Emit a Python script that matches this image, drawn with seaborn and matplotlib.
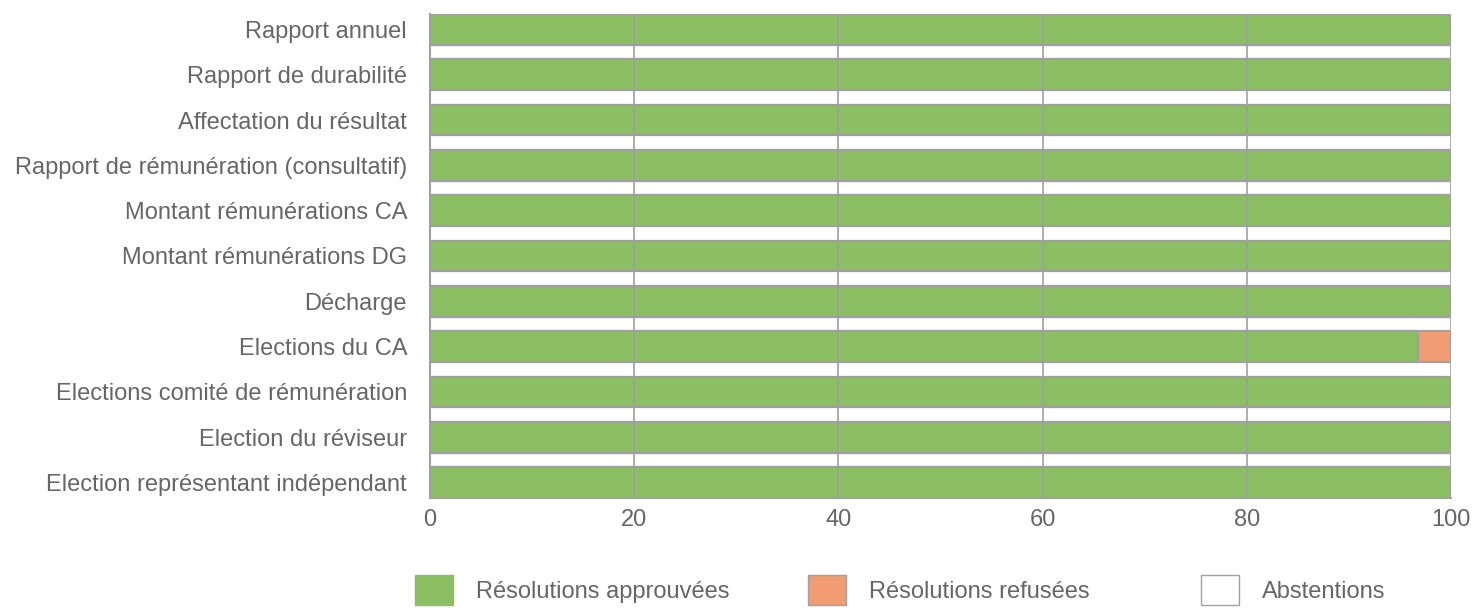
import numpy as np
import pandas as pd
import matplotlib
matplotlib.use('Agg')
import matplotlib.pyplot as plt
import seaborn as sns
from matplotlib.patches import Patch

# Data (percent of votes)
categories = ['Rapport annuel', 'Rapport de durabilité', 'Affectation du résultat',
              'Rapport de rémunération (consultatif)', 'Montant rémunérations CA',
              'Montant rémunérations DG', 'Décharge', 'Elections du CA',
              'Elections comité de rémunération', 'Election du réviseur',
              'Election représentant indépendant']
approved = [100, 100, 100, 100, 100, 100, 100, 96.8, 100, 100, 100]
refused = [0, 0, 0, 0, 0, 0, 0, 3.2, 0, 0, 0]
abstentions = [0, 0, 0, 0, 0, 0, 0, 0, 0, 0, 0]
legend_labels = ['Résolutions approuvées', 'Résolutions refusées', 'Abstentions']

green = '#8cbf63'
orange = '#f19c73'
edge = '#a0a0a0'
txt = '#666666'
fs = 17

df = pd.DataFrame({'cat': categories, 'approved': approved,
                   'refused': refused, 'abst': abstentions})
df['ref_cum'] = df['approved'] + df['refused']
df['abs_cum'] = df['ref_cum'] + df['abst']

sns.set_style('white')
plt.rcParams['font.family'] = ['Liberation Sans', 'DejaVu Sans']

fig = plt.figure(figsize=(14.75, 6.08), dpi=100)
ax = fig.add_axes([430 / 1475, 1 - 498 / 608, 1021 / 1475, 484 / 608])

w = 0.68
sns.barplot(data=df, y='cat', x='abs_cum', color='white', width=w, orient='h',
            edgecolor=edge, linewidth=1.5, ax=ax)
sns.barplot(data=df, y='cat', x='ref_cum', color=orange, saturation=1, width=w,
            orient='h', edgecolor=edge, linewidth=1.5, ax=ax)
sns.barplot(data=df, y='cat', x='approved', color=green, saturation=1, width=w,
            orient='h', edgecolor=edge, linewidth=1.5, ax=ax)

ax.set_xlim(0, 100)
ax.set_ylim(len(categories) - 1 + w / 2, -w / 2)
ax.set_xticks([0, 20, 40, 60, 80, 100])
ax.xaxis.grid(True, color='#a0a0a0', linewidth=1.2)
ax.set_axisbelow(False)
ax.set_xlabel('')
ax.set_ylabel('')
for s in ['top', 'right']:
    ax.spines[s].set_visible(False)
ax.spines['left'].set_color(edge)
ax.spines['bottom'].set_color(edge)
ax.spines['left'].set_linewidth(1.5)
ax.spines['bottom'].set_linewidth(1.5)
ax.tick_params(axis='x', colors=txt, labelsize=fs, length=0, pad=8)
ax.tick_params(axis='y', colors=txt, labelsize=fs, length=0, pad=16.5)

# legend: one entry per position, as in the reference
handles = [Patch(facecolor=green, edgecolor=green),
           Patch(facecolor=orange, edgecolor=edge),
           Patch(facecolor='white', edgecolor=edge)]
lefts = [415, 808, 1201]
for h, lab, x0 in zip(handles, legend_labels, lefts):
    leg = fig.legend([h], [lab], loc='center left',
                     bbox_to_anchor=(x0 / 1475, 1 - 590 / 608),
                     frameon=False, fontsize=fs, labelcolor=txt,
                     handlelength=1.6, handleheight=1.6, handletextpad=0.97,
                     borderpad=0, borderaxespad=0)

fig.savefig('out.png', dpi=100)
